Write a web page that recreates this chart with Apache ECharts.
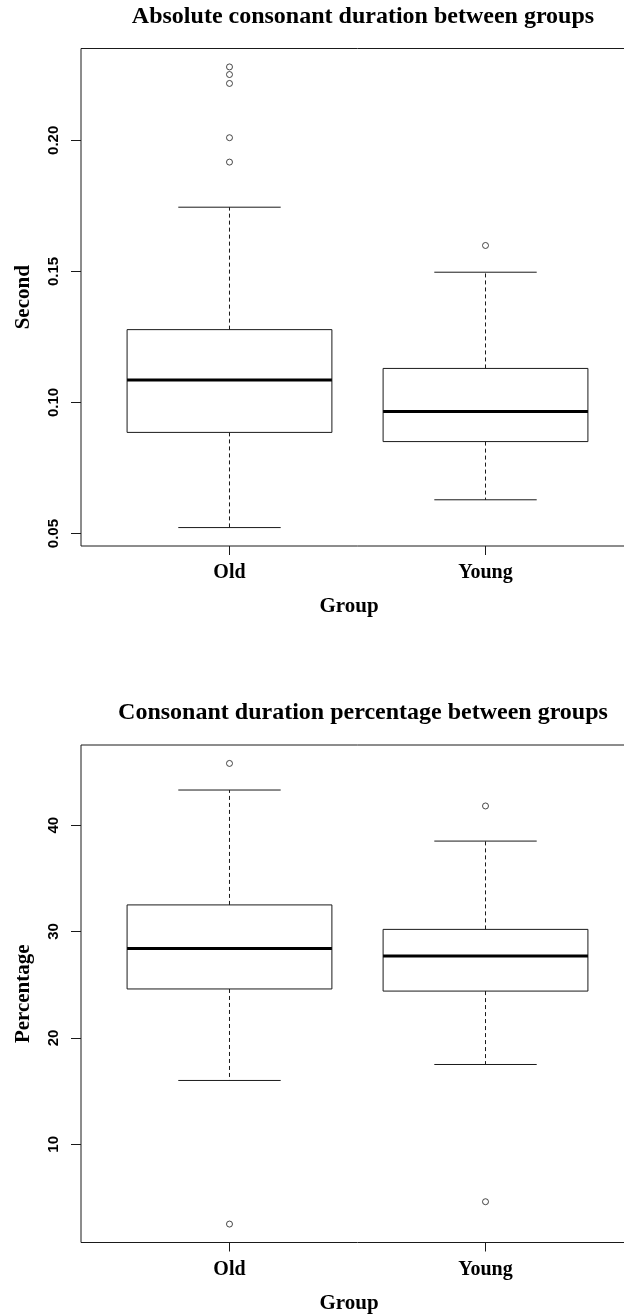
<!DOCTYPE html>
<html>
<head>
<meta charset="utf-8">
<script src="https://cdn.jsdelivr.net/npm/echarts@6/dist/echarts.min.js"></script>
<style>
  html, body { margin: 0; padding: 0; background: #fff; overflow: hidden; }
  #chart { width: 640px; height: 1316px; }
</style>
</head>
<body>
<div id="chart"></div>
<script>
// Group names on the x axis
const groups = ['Old', 'Young'];

// Absolute consonant duration (seconds): [lower whisker, Q1, median, Q3, upper whisker]
const secondOld = [0.0523, 0.0886, 0.1086, 0.1278, 0.1745];
const secondYoung = [0.0629, 0.0851, 0.0966, 0.1130, 0.1497];
const secondOldOutliers = [0.2280, 0.2251, 0.2217, 0.2010, 0.1917];
const secondYoungOutliers = [0.1599];
const secondTicks = [0.05, 0.10, 0.15, 0.20];

// Consonant duration percentage: [lower whisker, Q1, median, Q3, upper whisker]
const pctOld = [16.0, 24.6, 28.4, 32.5, 43.3];
const pctYoung = [17.5, 24.4, 27.7, 30.2, 38.5];
const pctOldOutliers = [45.8, 2.5];
const pctYoungOutliers = [41.8, 4.6];
const pctTicks = [10, 20, 30, 40];

const titles = [
  'Absolute consonant duration between groups',
  'Consonant duration percentage between groups'
];
const yNames = ['Second', 'Percentage'];
const xName = 'Group';

// R-style axis range: data extent padded by 4% on each side
function paddedRange(values) {
  const lo = Math.min(...values), hi = Math.max(...values);
  const pad = (hi - lo) * 0.04;
  return [lo - pad, hi + pad];
}
const X_RANGE = [0.42, 2.58];
const BOX_WIDTH = 0.8;
const CAP_WIDTH = 0.4;
const INK = '#1a1a1a';

function renderBox(params, api) {
  const x = api.value(0);
  const low = api.coord([x, api.value(1)]);
  const q1 = api.coord([x, api.value(2)]);
  const med = api.coord([x, api.value(3)]);
  const q3 = api.coord([x, api.value(4)]);
  const high = api.coord([x, api.value(5)]);
  const cx = med[0];
  const bw = api.size([BOX_WIDTH, 0])[0];
  const cw = api.size([CAP_WIDTH, 0])[0];
  const dashed = { stroke: INK, lineWidth: 1, lineDash: [4, 3], fill: null };
  const solid = { stroke: INK, lineWidth: 1, fill: null };
  return {
    type: 'group',
    children: [
      { type: 'line', shape: { x1: cx, y1: q3[1], x2: cx, y2: high[1] }, style: dashed },
      { type: 'line', shape: { x1: cx, y1: q1[1], x2: cx, y2: low[1] }, style: dashed },
      { type: 'line', shape: { x1: cx - cw / 2, y1: high[1], x2: cx + cw / 2, y2: high[1] }, style: solid },
      { type: 'line', shape: { x1: cx - cw / 2, y1: low[1], x2: cx + cw / 2, y2: low[1] }, style: solid },
      { type: 'rect', shape: { x: cx - bw / 2, y: q3[1], width: bw, height: q1[1] - q3[1] },
        style: { fill: '#fff', stroke: INK, lineWidth: 1 } },
      { type: 'line', shape: { x1: cx - bw / 2, y1: med[1], x2: cx + bw / 2, y2: med[1] },
        style: { stroke: '#000', lineWidth: 3 } }
    ]
  };
}

const panels = [
  { top: 48.5, boxes: [secondOld, secondYoung], outliers: [secondOldOutliers, secondYoungOutliers],
    ticks: secondTicks, fmt: v => v.toFixed(2) },
  { top: 745, boxes: [pctOld, pctYoung], outliers: [pctOldOutliers, pctYoungOutliers],
    ticks: pctTicks, fmt: v => String(v) }
];
const PLOT_LEFT = 81, PLOT_WIDTH = 553, PLOT_HEIGHT = 497.5;

const grid = [], xAxis = [], yAxis = [], series = [], graphic = [];
panels.forEach((p, i) => {
  const allValues = p.boxes.flat().concat(p.outliers.flat());
  const [yMin, yMax] = paddedRange(allValues);
  grid.push({
    left: PLOT_LEFT, top: p.top, width: PLOT_WIDTH, height: PLOT_HEIGHT,
    show: true, borderColor: INK, borderWidth: 1, backgroundColor: 'transparent'
  });
  xAxis.push({
    type: 'value', gridIndex: i, min: X_RANGE[0], max: X_RANGE[1],
    axisLine: { show: false }, splitLine: { show: false },
    axisTick: { show: true, customValues: [1, 2], length: 9, lineStyle: { color: INK } },
    axisLabel: {
      customValues: [1, 2], formatter: v => groups[Math.round(v) - 1], margin: 17,
      fontFamily: 'Liberation Serif', fontWeight: 'bold', fontSize: 20, color: '#000'
    }
  });
  yAxis.push({
    type: 'value', gridIndex: i, min: yMin, max: yMax,
    axisLine: { show: false }, splitLine: { show: false },
    axisTick: { show: true, customValues: p.ticks, length: 10, lineStyle: { color: INK } },
    axisLabel: {
      customValues: p.ticks, formatter: p.fmt, rotate: 90, margin: 20,
      fontFamily: 'Liberation Sans', fontWeight: 'bold', fontSize: 15, color: '#000'
    },
    name: yNames[i], nameLocation: 'middle', nameGap: 47,
    nameTextStyle: { fontFamily: 'Liberation Serif', fontWeight: 'bold', fontSize: 21, color: '#000' }
  });
  series.push({
    type: 'custom', xAxisIndex: i, yAxisIndex: i,
    data: p.boxes.map((b, k) => [k + 1].concat(b)),
    encode: { x: 0, y: [1, 2, 3, 4, 5] },
    renderItem: renderBox, silent: true
  });
  series.push({
    type: 'scatter', xAxisIndex: i, yAxisIndex: i, silent: true,
    data: p.outliers.flatMap((vals, k) => vals.map(v => [k + 1, v])),
    symbol: 'circle', symbolSize: 6,
    itemStyle: { color: 'rgba(0,0,0,0)', borderColor: INK, borderWidth: 1 }
  });
  graphic.push({
    type: 'text', x: 363, y: p.top - 32,
    style: { text: titles[i], font: 'bold 24px "Liberation Serif"', fill: '#000',
      textAlign: 'center', textVerticalAlign: 'middle' }
  });
  graphic.push({
    type: 'text', x: 349, y: p.top + PLOT_HEIGHT + 61,
    style: { text: xName, font: 'bold 21px "Liberation Serif"', fill: '#000',
      textAlign: 'center', textVerticalAlign: 'middle' }
  });
});

const chart = echarts.init(document.getElementById('chart'));
chart.setOption({
  animation: false,
  backgroundColor: '#fff',
  grid, xAxis, yAxis, series, graphic
});
</script>
</body>
</html>
